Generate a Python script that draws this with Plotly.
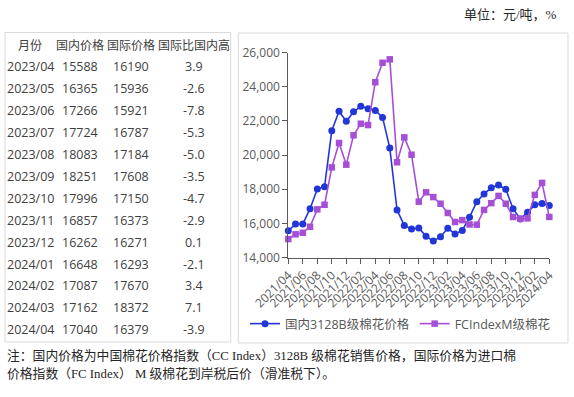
import plotly.graph_objects as go

# ---------------- data ----------------
months = [f"{y}/{m:02d}" for y, m in
          [(2021, m) for m in range(4, 13)] + [(2022, m) for m in range(1, 13)] +
          [(2023, m) for m in range(1, 13)] + [(2024, m) for m in range(1, 5)]]

domestic = [15570, 15960, 15960, 16860, 18010, 18150, 21430, 22570, 21980, 22540,
            22860, 22720, 22620, 22210, 20410, 16780, 15880, 15670, 15730, 15240,
            14960, 15220, 15710, 15380, 15588, 16365, 17266, 17724, 18083, 18251,
            17996, 16857, 16262, 16648, 17087, 17162, 17040]

international = [15080, 15360, 15450, 15800, 16820, 17090, 19280, 20710, 19440, 21160,
                 21840, 21760, 24270, 25410, 25610, 19580, 21040, 20020, 17270, 17820,
                 17540, 17150, 16610, 16080, 16190, 15936, 15921, 16787, 17184, 17608,
                 17150, 16373, 16271, 16293, 17670, 18372, 16379]

table_header = ["月份", "国内价格", "国际价格", "国际比国内高"]
table_month = ["2023/04", "2023/05", "2023/06", "2023/07", "2023/08", "2023/09", "2023/10",
               "2023/11", "2023/12", "2024/01", "2024/02", "2024/03", "2024/04"]
table_dom = ["15588", "16365", "17266", "17724", "18083", "18251", "17996",
             "16857", "16262", "16648", "17087", "17162", "17040"]
table_intl = ["16190", "15936", "15921", "16787", "17184", "17608", "17150",
              "16373", "16271", "16293", "17670", "18372", "16379"]
table_diff = ["3.9", "-2.6", "-7.8", "-5.3", "-5.0", "-3.5", "-4.7",
              "-2.9", "0.1", "-2.1", "3.4", "7.1", "-3.9"]

y_ticks = [14000, 16000, 18000, 20000, 22000, 24000, 26000]

unit_text = "单位：元/吨，%"
note_lines = ["注：国内价格为中国棉花价格指数（CC Index）3128B 级棉花销售价格，国际价格为进口棉",
              "价格指数（FC Index） M 级棉花到岸税后价（滑准税下）。"]

# ---------------- figure ----------------
W, H = 574, 397
def px(x): return x / W
def py(y): return 1 - y / H

SANS = "Segoe UI, Open Sans, Noto Sans CJK SC, sans-serif"
SERIF = "Liberation Serif, Noto Sans CJK SC, serif"
BLUE = "#2236d8"
PURPLE = "#a64fd6"
AXIS = "#595959"

idx = list(range(len(months)))

fig = go.Figure()
fig.add_trace(go.Scatter(
    x=idx, y=domestic, mode="lines+markers", name="国内3128B级棉花价格",
    line=dict(color=BLUE, width=1.6),
    marker=dict(symbol="circle", size=7, color=BLUE), cliponaxis=False))
fig.add_trace(go.Scatter(
    x=idx, y=international, mode="lines+markers", name="FCIndexM级棉花",
    line=dict(color=PURPLE, width=1.6),
    marker=dict(symbol="square", size=6.5, color=PURPLE), cliponaxis=False))

tick_idx = idx[::2]
fig.update_layout(
    width=W, height=H, margin=dict(l=0, r=0, t=0, b=0, autoexpand=False),
    paper_bgcolor="white", plot_bgcolor="white",
    font=dict(family=SANS, color=AXIS),
    xaxis=dict(domain=[px(288.3), px(549.3)], range=[0, 36], automargin=False,
               tickmode="array", tickvals=tick_idx, ticktext=[months[i] for i in tick_idx],
               tickangle=-45, ticks="outside", ticklen=5, tickcolor=AXIS,
               showline=True, linecolor=AXIS, linewidth=1, showgrid=False, zeroline=False,
               tickfont=dict(size=12, color=AXIS, family=SANS)),
    yaxis=dict(domain=[py(257.5), py(52.7)], range=[14000, 26000], automargin=False,
               tickmode="array", tickvals=y_ticks, tickformat=",d",
               ticks="outside", ticklen=5, tickcolor=AXIS,
               showline=True, linecolor=AXIS, linewidth=1, showgrid=False, zeroline=False,
               tickfont=dict(size=12, color=AXIS, family=SANS)),
    legend=dict(orientation="h", x=px(245), y=py(324), xanchor="left", yanchor="middle",
                font=dict(size=12.5, color=AXIS, family=SANS), bgcolor="rgba(0,0,0,0)",
                itemwidth=30, tracegroupgap=0),
    showlegend=True,
)

# panel borders
BORDER = "#d9d9d9"
fig.add_shape(type="rect", xref="paper", yref="paper",
              x0=px(5), x1=px(230.7), y0=py(342), y1=py(32.5),
              line=dict(color=BORDER, width=1))
fig.add_shape(type="rect", xref="paper", yref="paper",
              x0=px(238.3), x1=px(568), y0=py(343), y1=py(33),
              line=dict(color=BORDER, width=1))

# table as text
col_x = [30.3, 80.3, 130.5, 193.5]
row0 = 45.0
dy = 21.9
TCOL = "#404040"
for c, h in enumerate(table_header):
    fig.add_annotation(x=px(col_x[c]), y=py(row0), xref="paper", yref="paper",
                       text=h, showarrow=False, xanchor="center", yanchor="middle",
                       font=dict(size=12, color=TCOL, family=SANS))
for r in range(len(table_month)):
    yy = row0 + dy * (r + 1)
    for c, col in enumerate([table_month, table_dom, table_intl, table_diff]):
        fig.add_annotation(x=px(col_x[c]), y=py(yy), xref="paper", yref="paper",
                           text=col[r], showarrow=False, xanchor="center", yanchor="middle",
                           font=dict(size=12.5, color=TCOL, family=SANS))

# unit text
fig.add_annotation(x=px(559), y=py(15), xref="paper", yref="paper", text=unit_text,
                   showarrow=False, xanchor="right", yanchor="middle",
                   font=dict(size=13, color="#262626", family=SERIF))
# notes
for i, line in enumerate(note_lines):
    fig.add_annotation(x=px(5), y=py(355 + 18.5 * i), xref="paper", yref="paper", text=line,
                       showarrow=False, xanchor="left", yanchor="middle",
                       font=dict(size=12.8, color="#262626", family=SERIF))

fig.write_html("out.html", config={"displayModeBar": False},
               post_script="document.body.style.margin='0';document.body.style.overflow='hidden';")
